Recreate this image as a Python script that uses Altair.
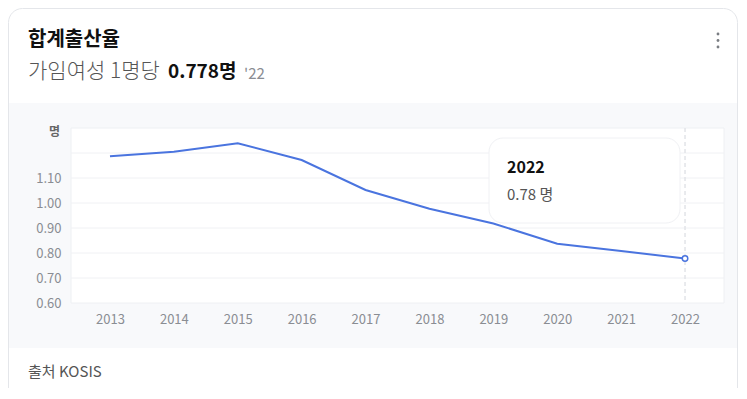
import altair as alt
import pandas as pd

# ---- data ----
years = ["2013", "2014", "2015", "2016", "2017", "2018", "2019", "2020", "2021", "2022"]
rates = [1.187, 1.205, 1.239, 1.172, 1.052, 0.977, 0.918, 0.837, 0.808, 0.778]
y_ticks = [0.6, 0.7, 0.8, 0.9, 1.0, 1.1]
grid_vals = [0.7, 0.8, 0.9, 1.0, 1.1, 1.2]
y_domain = [0.6, 1.3]

title_text = "합계출산율"
subtitle_a = "가임여성 1명당"
subtitle_b = "0.778명"
subtitle_c = "'22"
unit_label = "명"
source_text = "출처 KOSIS"
tip_year = years[-1]
tip_value = f"{rates[-1]:.2f} 명"

FONT = "Noto Sans CJK KR"
BLUE = "#4a74df"
W, H = 653, 175

df = pd.DataFrame({"year": years, "rate": rates})
last = df.iloc[[-1]]
one = pd.DataFrame({"a": [0]})

yscale = alt.Scale(domain=y_domain, nice=False, zero=False)
xscale = alt.Scale(type="point", padding=0.61)
yaxis = alt.Axis(values=y_ticks, format=".2f", grid=False, domain=False, ticks=False,
                 labelColor="#8a8d93", labelFontSize=13, labelFont=FONT, labelPadding=10,
                 title=None, zindex=1)
xaxis = alt.Axis(grid=False, domain=False, ticks=False, labelAngle=0,
                 labelColor="#8a8d93", labelFontSize=13, labelFont=FONT, labelPadding=10,
                 title=None, zindex=1)

card = alt.Chart(one).mark_rect(fill="white", stroke="#e4e6ea", strokeWidth=1, cornerRadius=14).encode(
    x=alt.value(-62.5), x2=alt.value(666.5), y=alt.value(-119.5), y2=alt.value(320))
graybg = alt.Chart(one).mark_rect(fill="#f8f9fb").encode(
    x=alt.value(-62), x2=alt.value(666), y=alt.value(-25), y2=alt.value(220))
plotbg = alt.Chart(one).mark_rect(fill="white", stroke="#eef0f3", strokeWidth=1).encode(
    x=alt.value(0), x2=alt.value(W), y=alt.value(0), y2=alt.value(H))

grid = alt.Chart(pd.DataFrame({"v": grid_vals})).mark_rule(color="#f0f1f4", strokeWidth=1).encode(
    y=alt.Y("v:Q", scale=yscale, axis=yaxis), x=alt.value(0), x2=alt.value(W))

vrule = alt.Chart(last).mark_rule(color="#e2e4e8", strokeWidth=1.5, strokeDash=[4, 3]).encode(
    x=alt.X("year:O", scale=xscale, axis=xaxis, sort=years), y=alt.value(0), y2=alt.value(H))

line = alt.Chart(df).mark_line(color=BLUE, strokeWidth=2).encode(
    x=alt.X("year:O", scale=xscale, axis=xaxis, sort=years),
    y=alt.Y("rate:Q", scale=yscale, axis=yaxis))

pt = alt.Chart(last).mark_point(filled=True, fill="white", stroke=BLUE, strokeWidth=1.5, size=30, opacity=1).encode(
    x=alt.X("year:O", scale=xscale, axis=xaxis, sort=years),
    y=alt.Y("rate:Q", scale=yscale, axis=yaxis))

tipbox = alt.Chart(one).mark_rect(fill="white", stroke="#f0f1f4", strokeWidth=1, cornerRadius=14).encode(
    x=alt.value(418), x2=alt.value(609), y=alt.value(10), y2=alt.value(95))
tip1 = alt.Chart(one).mark_text(text=tip_year, font=FONT, fontSize=16, fontWeight="bold", color="#111111",
                                align="left", baseline="middle").encode(x=alt.value(436), y=alt.value(40))
tip2 = alt.Chart(one).mark_text(text=tip_value, font=FONT, fontSize=15, color="#555555",
                                align="left", baseline="middle").encode(x=alt.value(436), y=alt.value(67))

t_title = alt.Chart(one).mark_text(text=title_text, font=FONT, fontSize=20, fontWeight="bold", color="#111111",
                                   align="left", baseline="middle").encode(x=alt.value(-43), y=alt.value(-88))
t_sa = alt.Chart(one).mark_text(text=subtitle_a, font=FONT, fontSize=21, fontWeight=300, color="#555555",
                                align="left", baseline="middle").encode(x=alt.value(-43), y=alt.value(-56))
t_sb = alt.Chart(one).mark_text(text=subtitle_b, font=FONT, fontSize=19, fontWeight="bold", color="#111111",
                                align="left", baseline="middle").encode(x=alt.value(97), y=alt.value(-56))
t_sc = alt.Chart(one).mark_text(text=subtitle_c, font=FONT, fontSize=15, color="#8a8d93",
                                align="left", baseline="middle").encode(x=alt.value(173), y=alt.value(-54))
t_unit = alt.Chart(one).mark_text(text=unit_label, font=FONT, fontSize=12, fontWeight="bold", color="#666666",
                                  align="right", baseline="middle").encode(x=alt.value(-11), y=alt.value(4))
t_src = alt.Chart(one).mark_text(text=source_text, font=FONT, fontSize=15, color="#555555",
                                 align="left", baseline="middle").encode(x=alt.value(-43), y=alt.value(244))

dot1 = alt.Chart(one).mark_circle(color="#7a7d82", size=8, opacity=1).encode(x=alt.value(647), y=alt.value(-94))
dot2 = alt.Chart(one).mark_circle(color="#7a7d82", size=8, opacity=1).encode(x=alt.value(647), y=alt.value(-87.5))
dot3 = alt.Chart(one).mark_circle(color="#7a7d82", size=8, opacity=1).encode(x=alt.value(647), y=alt.value(-81))

chart = alt.layer(
    card, graybg, plotbg, grid, vrule, line, pt, tipbox, tip1, tip2,
    t_title, t_sa, t_sb, t_sc, t_unit, t_src, dot1, dot2, dot3
).properties(
    width=W, height=H,
    autosize=alt.AutoSizeParams(type="none"),
    padding={"left": 63, "top": 120, "right": 14, "bottom": 85},
).configure_view(stroke=None).configure(background="white")

chart.save("out.html", embed_options={"renderer": "svg", "actions": False})
